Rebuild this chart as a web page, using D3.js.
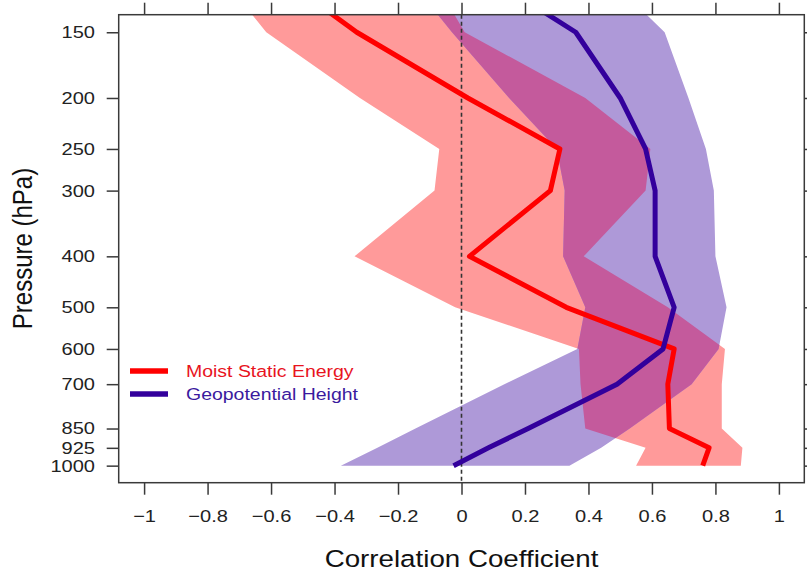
<!DOCTYPE html>
<html>
<head>
<meta charset="utf-8">
<script src="https://cdn.jsdelivr.net/npm/d3@7"></script>
<style>
  body { margin: 0; background: #fff; }
  svg { display: block; font-family: "Liberation Sans", Arial, Helvetica, sans-serif; }
</style>
</head>
<body>
<svg id="chart" width="807" height="574"></svg>
<script>
// pressure levels (hPa)
const levels = [100, 150, 200, 250, 300, 400, 500, 600, 700, 850, 925, 1000];

// moist static energy: mean and spread
const mseMean = [-0.73, -0.33, 0.02, 0.31, 0.28, 0.025, 0.33, 0.67, 0.65, 0.655, 0.78, 0.76];
const mseLow  = [-0.85, -0.615, -0.32, -0.07, -0.085, -0.337, -0.02, 0.37, 0.375, 0.39, 0.58, 0.55];
const mseHigh = [-0.16, 0.01, 0.39, 0.595, 0.58, 0.385, 0.65, 0.83, 0.82, 0.82, 0.885, 0.88];

// geopotential height: mean and spread
const gphMean = [-0.10, 0.36, 0.50, 0.58, 0.61, 0.61, 0.67, 0.635, 0.49, 0.21, 0.085, -0.025];
const gphLow  = [-0.265, -0.03, 0.15, 0.30, 0.325, 0.32, 0.39, 0.365, 0.135, -0.145, -0.265, -0.38];
const gphHigh = [0.34, 0.64, 0.715, 0.77, 0.795, 0.80, 0.835, 0.81, 0.725, 0.53, 0.44, 0.34];

const xTicks = [-1, -0.8, -0.6, -0.4, -0.2, 0, 0.2, 0.4, 0.6, 0.8, 1];
const yTicks = [150, 200, 250, 300, 400, 500, 600, 700, 850, 925, 1000];

const seriesNames = ["Moist Static Energy", "Geopotential Height"];

const W = 807, H = 574;
const margin = { top: 14.7, right: 2.7, bottom: 91.3, left: 118.7 };
const STRETCH = 1.18; // text in the original is a bit wide

const COLORS = {
    red: "#ff0000",
    redBand: "#ff9a9a",
    blue: "#33009c",
    blueBand: "#ae99d8",
    overlap: "#c45a9c",
    axis: "#3a3a3a"
};

const svg = d3.select("#chart");
const x = d3.scaleLinear().domain([-1.08, 1.08]).range([margin.left, W - margin.right]);
const y = d3.scaleLog().domain([138.9, 1077.5]).range([margin.top, H - margin.bottom]);

const mse = levels.map((p, i) => ({ p, mean: mseMean[i], lo: mseLow[i], hi: mseHigh[i] }));
const gph = levels.map((p, i) => ({ p, mean: gphMean[i], lo: gphLow[i], hi: gphHigh[i] }));

const defs = svg.append("defs");
defs.append("clipPath").attr("id", "plotClip")
    .append("rect")
    .attr("x", margin.left).attr("y", margin.top)
    .attr("width", W - margin.left - margin.right)
    .attr("height", H - margin.top - margin.bottom);

const band = d3.area()
    .y(d => y(d.p))
    .x0(d => x(d.lo))
    .x1(d => x(d.hi));

const line = d3.line()
    .x(d => x(d.mean))
    .y(d => y(d.p));

defs.append("clipPath").attr("id", "gphClip")
    .append("path").attr("d", band(gph));

const plot = svg.append("g").attr("clip-path", "url(#plotClip)");

// bands, with their overlap in its own colour
plot.append("path").attr("d", band(mse)).attr("fill", COLORS.redBand);
plot.append("path").attr("d", band(gph)).attr("fill", COLORS.blueBand);
plot.append("g").attr("clip-path", "url(#gphClip)")
    .append("path").attr("d", band(mse)).attr("fill", COLORS.overlap);

// zero line
plot.append("line")
    .attr("x1", x(0)).attr("x2", x(0))
    .attr("y1", margin.top).attr("y2", H - margin.bottom)
    .attr("stroke", "#333").attr("stroke-width", 1.6)
    .attr("stroke-dasharray", "4,3");

plot.append("path").attr("d", line(mse))
    .attr("fill", "none").attr("stroke", COLORS.red)
    .attr("stroke-width", 5).attr("stroke-linejoin", "round");
plot.append("path").attr("d", line(gph))
    .attr("fill", "none").attr("stroke", COLORS.blue)
    .attr("stroke-width", 5).attr("stroke-linejoin", "round");

// axes
function styleAxis(g) {
    g.select(".domain").remove();
    g.selectAll(".tick line").attr("stroke", COLORS.axis).attr("stroke-width", 1.5);
    g.selectAll(".tick text").attr("fill", "#222").style("font-size", "17px");
}

svg.append("g")
    .attr("transform", `translate(0,${H - margin.bottom})`)
    .call(d3.axisBottom(x).tickValues(xTicks).tickFormat(d3.format("~g"))
        .tickSize(12).tickPadding(15).tickSizeOuter(0))
    .call(styleAxis)
    .call(g => g.selectAll(".tick text").attr("transform", `scale(${STRETCH},1)`));

svg.append("g")
    .attr("transform", `translate(${margin.left},0)`)
    .call(d3.axisLeft(y).tickValues(yTicks).tickFormat(d3.format("d")).tickSize(12).tickSizeOuter(0))
    .call(styleAxis)
    .call(g => g.selectAll(".tick text")
        .attr("x", -23.7 / STRETCH)
        .attr("transform", `scale(${STRETCH},1)`));

svg.append("g")
    .attr("transform", `translate(0,${margin.top})`)
    .call(d3.axisTop(x).tickValues(xTicks).tickFormat("").tickSize(12).tickSizeOuter(0))
    .call(styleAxis);

svg.append("g")
    .attr("transform", `translate(${W - margin.right},0)`)
    .call(d3.axisRight(y).tickValues(yTicks).tickFormat("").tickSize(12).tickSizeOuter(0))
    .call(styleAxis);

// frame
svg.append("rect")
    .attr("x", margin.left).attr("y", margin.top)
    .attr("width", W - margin.left - margin.right)
    .attr("height", H - margin.top - margin.bottom)
    .attr("fill", "none").attr("stroke", COLORS.axis).attr("stroke-width", 1.5);

// axis titles
svg.append("text")
    .attr("transform", `translate(${(margin.left + W - margin.right) / 2},567) scale(${STRETCH},1)`)
    .attr("text-anchor", "middle")
    .style("font-size", "23.5px").attr("fill", "#111")
    .text("Correlation Coefficient");

svg.append("text")
    .attr("transform", `translate(32,248.5) rotate(-90) scale(1,${STRETCH})`)
    .attr("text-anchor", "middle")
    .style("font-size", "24px").attr("fill", "#111")
    .text("Pressure (hPa)");

// legend
const legend = svg.append("g");
const legendColors = [COLORS.red, COLORS.blue];
const legendText = ["#e8141e", "#3a1a9e"];
seriesNames.forEach((name, i) => {
    const ly = 371 + i * 23;
    legend.append("line")
        .attr("x1", 130).attr("x2", 168)
        .attr("y1", ly).attr("y2", ly)
        .attr("stroke", legendColors[i]).attr("stroke-width", 5.5);
    legend.append("text")
        .attr("transform", `translate(186,${ly + 6}) scale(${STRETCH},1)`)
        .style("font-size", "16.5px").attr("fill", legendText[i])
        .text(name);
});
</script>
</body>
</html>
